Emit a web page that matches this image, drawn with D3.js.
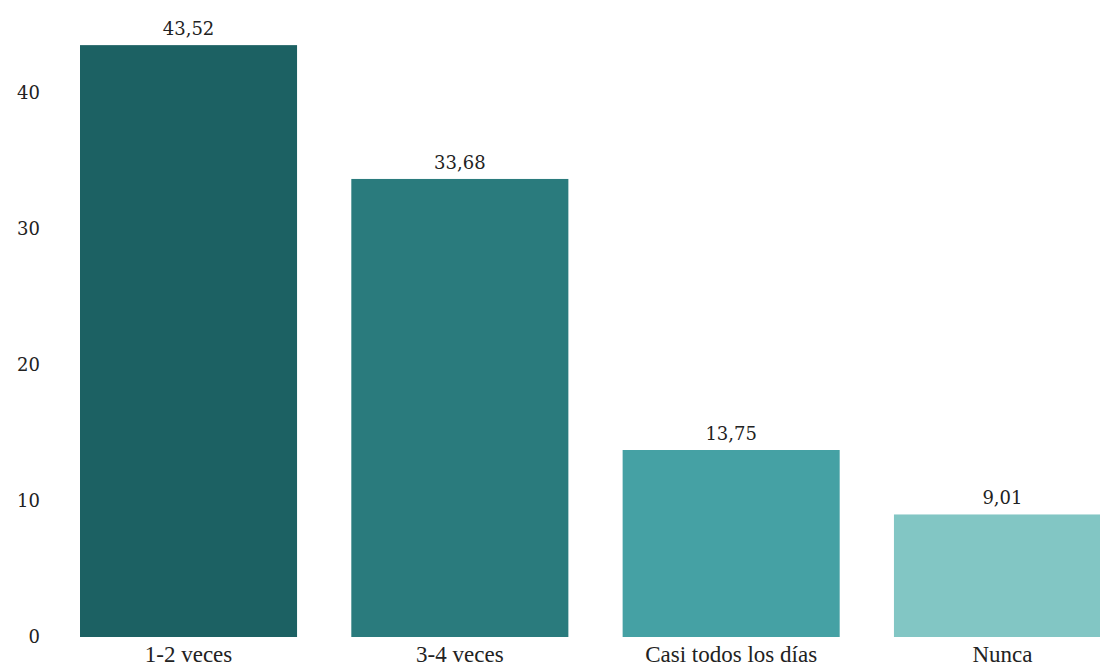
<!DOCTYPE html>
<html><head><meta charset="utf-8">
<script src="https://cdn.jsdelivr.net/npm/d3@7"></script>
<style>body{margin:0;background:#fff;overflow:hidden}</style>
</head><body>
<svg id="c" width="1100" height="669"></svg>
<script>
const categories = ["1-2 veces", "3-4 veces", "Casi todos los días", "Nunca"];
const values = [43.52, 33.68, 13.75, 9.01];
const valueLabels = ["43,52", "33,68", "13,75", "9,01"];
const colors = ["#1c6163", "#2a7b7d", "#45a1a4", "#82c6c4"];
const yTicks = [0, 10, 20, 30, 40];

const svg = d3.select("#c");
const x = d3.scaleBand().domain(categories).range([80, 1111]).paddingInner(0.2).paddingOuter(0);
const y = d3.scaleLinear().domain([0, 10]).range([637, 501]);

svg.selectAll("rect.bar").data(values).join("rect")
  .attr("class", "bar")
  .attr("x", (d, i) => x(categories[i]))
  .attr("width", x.bandwidth())
  .attr("y", d => y(d))
  .attr("height", d => y(0) - y(d))
  .attr("fill", (d, i) => colors[i]);

svg.selectAll("text.val").data(values).join("text")
  .attr("class", "val")
  .attr("x", (d, i) => x(categories[i]) + x.bandwidth() / 2)
  .attr("y", d => y(d) - 10)
  .attr("text-anchor", "middle")
  .attr("font-family", "DejaVu Serif")
  .attr("font-size", 18)
  .attr("fill", "#222")
  .text((d, i) => valueLabels[i]);

const yAxis = svg.append("g").attr("transform", "translate(40,0)")
  .call(d3.axisLeft(y).tickValues(yTicks).tickSize(0).tickPadding(0).tickFormat(d3.format("d")));
yAxis.select(".domain").remove();
yAxis.selectAll("text").attr("font-family", "DejaVu Serif").attr("font-size", 18).attr("fill", "#222");

const xAxis = svg.append("g").attr("transform", "translate(0,637)")
  .call(d3.axisBottom(x).tickSize(0).tickPadding(0));
xAxis.select(".domain").remove();
xAxis.selectAll("text").attr("font-family", "Liberation Serif").attr("font-size", 23)
  .attr("fill", "#222").attr("dy", null).attr("y", 25);
</script>
</body></html>
